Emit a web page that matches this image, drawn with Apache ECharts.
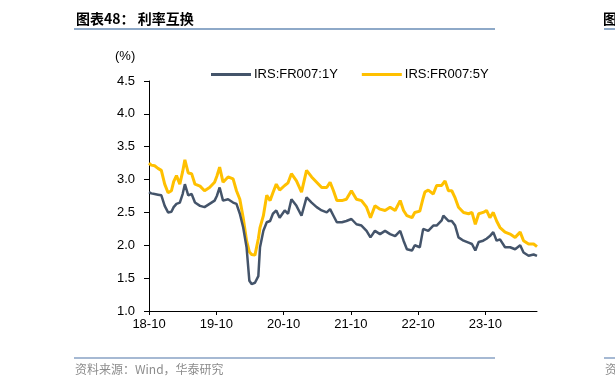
<!DOCTYPE html>
<html>
<head>
<meta charset="utf-8">
<script src="https://cdn.jsdelivr.net/npm/echarts@6/dist/echarts.min.js"></script>
<style>
html,body{margin:0;padding:0;background:#fff;}
#c{width:615px;height:389px;}
</style>
</head>
<body>
<div id="c"></div>
<script>
// months elapsed since 2018-10
var months = [0,0.4,1.0,1.6,2.2,2.8,3.4,4.0,4.4,4.9,5.5,6.0,6.4,7.0,7.6,8.2,9.1,9.9,10.8,11.7,12.1,12.6,13.2,14.1,15.0,15.6,16.2,16.8,17.4,17.9,18.3,18.9,19.5,19.8,20.4,21.0,21.6,22.1,22.7,23.3,24.2,24.8,25.4,26.3,27.2,28.1,29.0,29.9,30.8,31.7,32.3,32.9,33.5,34.4,35.2,36.1,37.0,37.9,38.8,39.5,40.3,41.2,42.1,43.0,43.9,44.8,45.4,46.0,46.9,47.4,48.3,48.9,49.2,49.8,50.1,50.7,51.3,51.6,52.2,52.5,52.8,53.4,54.0,54.6,55.2,56.1,57.0,57.6,58.2,58.8,59.6,60.2,60.8,61.4,62.0,62.6,63.5,64.4,65.3,66.2,66.8,67.7,68.6,69.2];
var irs1Y = [2.81,2.79,2.78,2.77,2.76,2.60,2.50,2.51,2.58,2.63,2.65,2.78,2.93,2.76,2.78,2.65,2.60,2.58,2.63,2.68,2.75,2.88,2.68,2.70,2.65,2.63,2.48,2.27,1.97,1.46,1.41,1.43,1.53,1.97,2.22,2.35,2.37,2.48,2.53,2.42,2.53,2.48,2.70,2.60,2.45,2.73,2.65,2.58,2.53,2.50,2.55,2.45,2.35,2.35,2.37,2.40,2.32,2.30,2.22,2.12,2.22,2.17,2.22,2.17,2.14,2.22,2.07,1.94,1.92,2.00,1.97,2.25,2.26,2.22,2.24,2.30,2.30,2.32,2.38,2.45,2.42,2.37,2.37,2.30,2.12,2.07,2.04,2.02,1.92,2.05,2.07,2.10,2.14,2.20,2.07,2.09,1.97,1.97,1.94,2.00,1.89,1.84,1.86,1.84];
var irs5Y = [3.25,3.22,3.21,3.17,3.14,2.93,2.80,2.83,2.97,3.06,2.93,3.12,3.30,3.10,3.09,2.93,2.90,2.83,2.88,2.96,3.05,3.19,2.96,3.04,3.01,2.83,2.70,2.42,2.07,1.90,1.86,1.85,2.10,2.27,2.45,2.76,2.68,2.80,2.93,2.84,2.91,2.95,3.09,2.98,2.81,3.14,3.04,2.96,2.88,2.88,2.96,2.83,2.68,2.68,2.70,2.83,2.70,2.68,2.58,2.42,2.60,2.55,2.53,2.58,2.53,2.68,2.53,2.45,2.42,2.50,2.52,2.72,2.81,2.84,2.86,2.78,2.91,2.90,2.91,2.93,2.98,2.83,2.83,2.72,2.58,2.50,2.48,2.50,2.32,2.48,2.50,2.53,2.42,2.50,2.37,2.27,2.20,2.17,2.12,2.20,2.07,2.02,2.02,1.98];
var xTickLabels = ['18-10','19-10','20-10','21-10','22-10','23-10'];
var seriesNames = ['IRS:FR007:1Y','IRS:FR007:5Y'];

function pairs(v){ return months.map(function(m,i){ return [m, v[i]]; }); }

var chart = echarts.init(document.getElementById('c'));
chart.setOption({
  animation:false,
  backgroundColor:'#fff',
  grid:{left:149, right:78, top:81, bottom:78, containLabel:false},
  legend:{
    top:63, left:206, itemWidth:40, itemHeight:3, itemGap:24, icon:'rect',
    textStyle:{fontFamily:'Liberation Sans, Arial', fontSize:13, color:'#000', padding:[0,0,0,-2]},
    data:seriesNames
  },
  xAxis:{
    type:'value', min:0, max:69.2, interval:12,
    splitLine:{show:false},
    axisLine:{lineStyle:{color:'#000', width:1}},
    axisTick:{show:true, inside:false, length:4, lineStyle:{color:'#000'}},
    axisLabel:{
      margin:7, color:'#000', fontSize:13, fontFamily:'Liberation Sans, Arial',
      showMaxLabel:false,
      formatter:function(v){ var k=Math.round(v/12); return xTickLabels[k]||''; }
    }
  },
  yAxis:{
    type:'value', min:1, max:4.5, interval:0.5,
    splitLine:{show:false},
    axisLine:{show:true, lineStyle:{color:'#000', width:1}},
    axisTick:{show:true, length:5, lineStyle:{color:'#000'}},
    axisLabel:{margin:14, color:'#000', fontSize:13, fontFamily:'Liberation Sans, Arial',
      formatter:function(v){ return v.toFixed(1); }}
  },
  series:[
    {name:seriesNames[0], type:'line', data:pairs(irs1Y), showSymbol:false, symbol:'none',
     lineStyle:{color:'#44546A', width:2.5}, itemStyle:{color:'#44546A'}, z:3},
    {name:seriesNames[1], type:'line', data:pairs(irs5Y), showSymbol:false, symbol:'none',
     lineStyle:{color:'#FFC000', width:3}, itemStyle:{color:'#FFC000'}, z:2}
  ],
  graphic:[
    {type:'text', left:76, top:12, style:{text:'图表48： 利率互换', fontFamily:'Noto Sans CJK SC', fontWeight:'bold', fontSize:14, fill:'#000'}},
    {type:'rect', shape:{x:74, y:28, width:421, height:2}, style:{fill:'#8EA9C8'}},
    {type:'text', left:603, top:12, style:{text:'图表49：', fontFamily:'Noto Sans CJK SC', fontWeight:'bold', fontSize:14, fill:'#000'}},
    {type:'rect', shape:{x:604, y:28, width:20, height:2}, style:{fill:'#8EA9C8'}},
    {type:'text', left:115, top:50, style:{text:'(%)', fontFamily:'Liberation Sans, Arial', fontSize:13, fill:'#000'}},
    {type:'rect', shape:{x:74, y:357, width:421, height:2}, style:{fill:'#A6B9D3'}},
    {type:'rect', shape:{x:604, y:357, width:20, height:2}, style:{fill:'#A6B9D3'}},
    {type:'text', left:75, top:363, style:{text:'资料来源：Wind，华泰研究', fontFamily:'Noto Sans CJK SC', fontSize:12, fill:'#8c8c8c'}},
    {type:'text', left:605, top:363, style:{text:'资料', fontFamily:'Noto Sans CJK SC', fontSize:12, fill:'#8c8c8c'}}
  ]
});
</script>
</body>
</html>
